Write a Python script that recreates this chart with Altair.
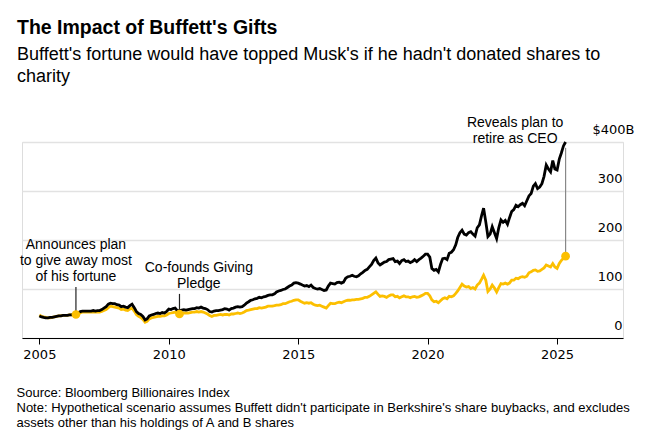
import altair as alt
import pandas as pd

# ---------------- data (monthly, Jan 2005 - May 2025, $ billions) ----------------
months = pd.date_range("2005-01-01", "2025-05-01", freq="MS")

hypothetical = [
    45, 43, 42, 41, 41, 42, 42, 43, 44, 45, 45, 46,            # 2005
    46, 46, 47, 47, 48, 48, 51, 54, 55, 55, 55, 55,            # 2006
    55, 56, 55, 56, 56, 58, 61, 64, 69, 71, 70, 70,            # 2007
    68, 67, 64, 65, 63, 62, 66, 69, 62, 54, 50, 48,            # 2008
    44, 37, 39, 45, 47, 48, 50, 51, 50, 52, 51, 54,            # 2009
    59, 58, 60, 61, 56, 56, 57, 58, 57, 58, 59, 60,            # 2010
    60, 62, 61, 63, 61, 60, 58, 54, 53, 55, 56, 56,            # 2011
    57, 58, 60, 59, 57, 60, 61, 63, 64, 63, 64, 67,            # 2012
    71, 74, 77, 78, 80, 81, 83, 82, 84, 85, 87, 88,            # 2013
    88, 90, 94, 96, 97, 99, 100, 103, 106, 108, 112, 113,      # 2014
    112, 110, 108, 106, 107, 105, 108, 103, 101, 100, 101, 99,  # 2015
    97, 98, 106, 112, 111, 110, 113, 114, 112, 114, 122, 125,  # 2016
    126, 128, 126, 125, 127, 131, 134, 138, 140, 145, 150, 158,  # 2017
    163, 153, 149, 152, 155, 156, 160, 161, 162, 156, 157, 152,  # 2018
    158, 160, 156, 157, 154, 156, 160, 156, 160, 163, 167, 171,  # 2019
    171, 165, 142, 138, 140, 135, 150, 162, 163, 160, 173, 175,  # 2020
    180, 190, 205, 215, 220, 212, 210, 215, 217, 212, 208, 225,  # 2021
    231, 250, 265, 237, 207, 212, 227, 215, 203, 225, 241, 236,  # 2022
    240, 232, 245, 258, 262, 271, 268, 272, 275, 270, 280, 290,  # 2023
    295, 310, 315, 305, 308, 315, 330, 353, 345, 339, 362, 345,  # 2024
    343, 365, 377, 392, 400,                                   # 2025
]

actual = [
    47, 44, 43, 42, 41, 41, 42, 43, 44, 45, 45, 46,            # 2005
    46, 46, 47, 47, 47, 48, 50, 51, 53, 53, 53, 53,            # 2006
    53, 53, 53, 53, 53, 54, 56, 58, 62, 65, 64, 63,            # 2007
    62, 61, 58, 59, 57, 56, 59, 61, 55, 48, 44, 42,            # 2008
    38, 32, 34, 39, 41, 42, 43, 44, 44, 45, 45, 47,            # 2009
    50, 51, 52, 53, 50, 49, 50, 51, 51, 51, 52, 53,            # 2010
    53, 54, 53, 54, 53, 51, 49, 46, 44, 46, 46, 47,            # 2011
    48, 47, 48, 48, 47, 49, 49, 50, 51, 50, 51, 53,            # 2012
    56, 57, 58, 59, 60, 60, 62, 61, 62, 63, 65, 65,            # 2013
    65, 66, 67, 67, 68, 70, 70, 72, 74, 75, 77, 78,            # 2014
    78, 75, 73, 71, 72, 71, 72, 69, 67, 66, 67, 65,            # 2015
    63, 61, 66, 71, 70, 70, 72, 73, 72, 74, 76, 77,            # 2016
    77, 78, 78, 79, 79, 80, 81, 83, 83, 85, 88, 91,            # 2017
    94, 89, 85, 86, 85, 83, 86, 88, 88, 84, 85, 82,            # 2018
    84, 86, 84, 84, 82, 84, 85, 83, 84, 86, 88, 91,            # 2019
    91, 86, 78, 74, 75, 72, 76, 80, 82, 80, 85, 84,            # 2020
    86, 91, 96, 103, 110, 106, 104, 105, 101, 103, 100, 108,   # 2021
    112, 120, 128, 118, 95, 100, 108, 102, 94, 103, 111, 110,  # 2022
    112, 110, 112, 118, 118, 122, 121, 124, 125, 124, 126, 133,  # 2023
    135, 138, 139, 136, 137, 140, 143, 149, 147, 145, 152, 145,  # 2024
    142, 152, 158, 163, 167,                                   # 2025
]

# event annotations
event_dates = ["2006-06-01", "2010-06-01", "2025-05-01"]
event_values = [48, 49, 167]
label_dates = ["2006-06-01", "2011-03-01", "2023-05-20"]
label_values = [176, 128, 425]
labels = [
    "Announces plan\nto give away most\nof his fortune",
    "Co-founds Giving\nPledge",
    "Reveals plan to\nretire as CEO",
]
leader_top = [104, 90, 388]
leader_colors = ["#222222", "#222222", "#888888"]

year_ticks = [2005, 2010, 2015, 2020, 2025]
y_ticks = [0, 100, 200, 300, 400]
footer = [
    "Source: Bloomberg Billionaires Index",
    "Note: Hypothetical scenario assumes Buffett didn't participate in Berkshire's share buybacks, and excludes",
    "assets other than his holdings of A and B shares",
]

# ---------------- tables ----------------
df = pd.DataFrame({"date": months.strftime("%Y-%m-%d"), "hyp": hypothetical, "act": actual})
ev = pd.DataFrame({"date": event_dates, "value": event_values, "top": leader_top, "color": leader_colors})
lab = pd.DataFrame({"date": label_dates, "value": label_values, "label": labels})

FONT = "Liberation Sans"
YELLOW = "#fcbf00"

x_enc = alt.X(
    "date:T",
    scale=alt.Scale(domain=[alt.DateTime(year=2004, month=5, date=1),
                            alt.DateTime(year=2027, month=7, date=20)]),
    axis=alt.Axis(
        values=[alt.DateTime(year=y, month=1, date=1) for y in year_ticks],
        format="%Y",
        grid=False,
        domainColor="#000000",
        domainWidth=1,
        tickColor="#000000",
        tickSize=6,
        labelPadding=4,
        labelFont="DejaVu Sans",
        labelFontSize=13,
        labelColor="#000000",
        title=footer,
        titleFont=FONT,
        titleFontSize=13,
        titleFontWeight="normal",
        titleColor="#000000",
        titleAnchor="start",
        titleAlign="left",
        titleBaseline="top",
        titleX=-6,
        titleY=48,
        titleLineHeight=15,
    ),
)

y_scale = alt.Scale(domain=[0, 400], nice=False)
y_axis = alt.Axis(
    orient="right",
    values=y_ticks,
    domain=False,
    ticks=False,
    tickSize=0,
    labelAlign="right",
    labelBaseline="alphabetic",
    labelOffset=-9,
    labelPadding={"condition": {"test": "datum.value == 400", "value": 11}, "value": -1},
    labelExpr="datum.value == 400 ? '$400B' : datum.label",
    labelFont="DejaVu Sans",
    labelFontSize=13,
    labelColor="#000000",
    gridColor="#e2e2e2",
    gridWidth=1.5,
    title=None,
)

base = alt.Chart(df)

actual_line = base.mark_line(color=YELLOW, strokeWidth=2.8).encode(
    x=x_enc, y=alt.Y("act:Q", scale=y_scale, axis=y_axis)
)
hyp_line = base.mark_line(color="#000000", strokeWidth=2.8).encode(
    x="date:T", y=alt.Y("hyp:Q", scale=y_scale)
)

leaders = alt.Chart(ev).mark_rule().encode(
    x="date:T",
    y=alt.Y("top:Q", scale=y_scale),
    y2="value:Q",
    color=alt.Color("color:N", scale=None),
    strokeWidth=alt.value(1.2),
)

dots = alt.Chart(ev).mark_circle(color=YELLOW, opacity=1, size=75).encode(
    x="date:T", y=alt.Y("value:Q", scale=y_scale)
)

texts = alt.Chart(lab).mark_text(
    font=FONT, fontSize=14, color="#000000", align="center", baseline="bottom",
    lineBreak="\n", lineHeight=16,
).encode(
    x="date:T", y=alt.Y("value:Q", scale=y_scale), text="label:N"
)

chart = alt.layer(actual_line, hyp_line, leaders, dots, texts).properties(
    width=601,
    height=196,
    padding={"left": 22, "top": 142, "right": 23, "bottom": 104},
    autosize=alt.AutoSizeParams(type="none"),
    title=alt.TitleParams(
        text="The Impact of Buffett's Gifts",
        subtitle=["Buffett's fortune would have topped Musk's if he hadn't donated shares to", "charity"],
        anchor="start",
        frame="group",
        dx=-5,
        offset=29,
        font=FONT,
        fontSize=19.5,
        fontWeight="bold",
        color="#000000",
        subtitleFont=FONT,
        subtitleFontSize=18,
        subtitleColor="#000000",
        subtitleLineHeight=22,
        subtitlePadding=7,
    ),
).configure_view(stroke=None).configure(background="white")

chart.save("out.html", embed_options={"renderer": "svg", "actions": False})
